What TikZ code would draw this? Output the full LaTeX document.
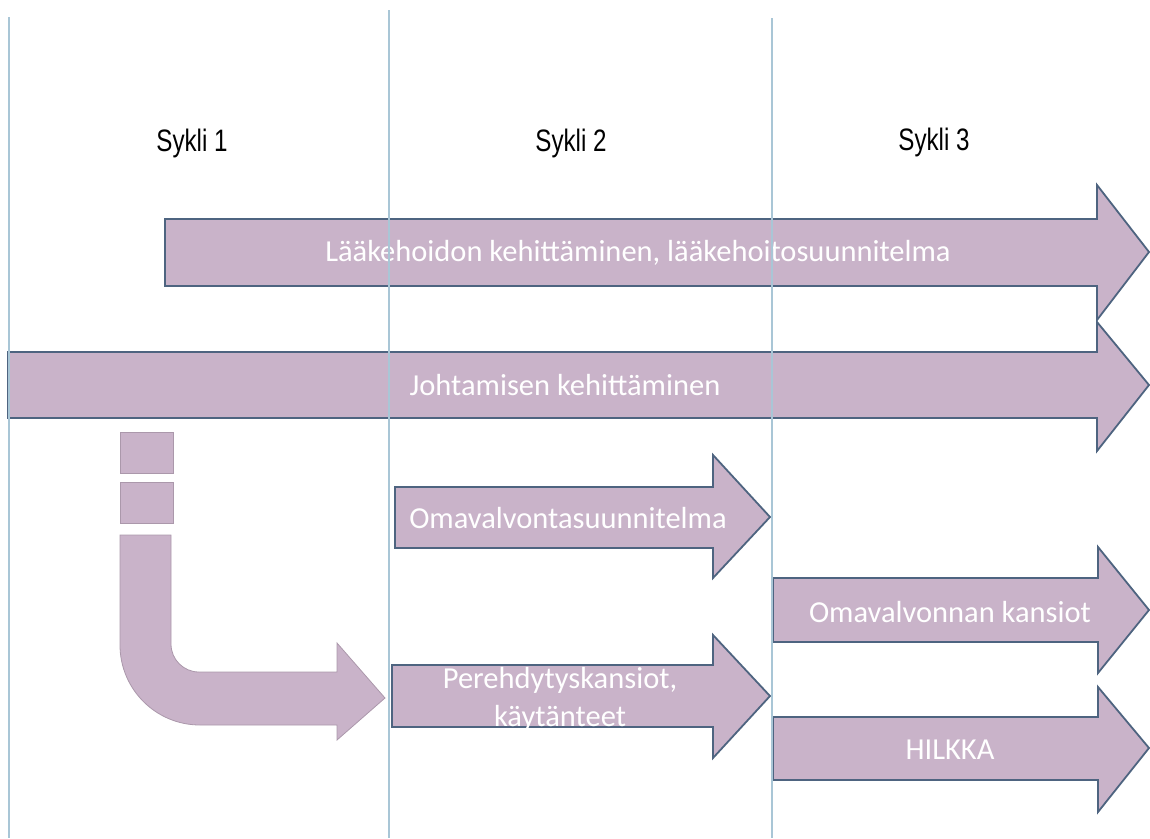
\documentclass[tikz,border=0pt]{standalone}
\usepackage{fontspec}
\setmainfont{Carlito}
\newfontfamily\syklifont[FakeStretch=0.78]{Liberation Sans}
\usetikzlibrary{positioning}

\definecolor{arrowfill}{HTML}{C9B3C9}
\definecolor{arrowedge}{HTML}{4E6480}
\definecolor{gridline}{HTML}{A9C6D6}

\begin{document}
\begin{tikzpicture}[
    x=1pt,
    y=-1pt,
    blockarrow/.style={
        fill=arrowfill,
        draw=arrowedge,
        line width=1.8pt,
        line join=miter
    },
    bentarrow/.style={
        fill=arrowfill,
        draw=arrowfill!85!black,
        line width=0.8pt
    },
    phase/.style={
        font=\syklifont\fontsize{31}{36}\selectfont,
        text=black
    },
    caption/.style={
        font=\fontsize{30.5}{38}\selectfont,
        text=white,
        align=center
    },
    divider/.style={
        draw=gridline,
        line width=1.2pt
    }
]
\useasboundingbox (0,0) rectangle (1150,838);

% Cycle headings
\node [phase] (sykli1) at (192,143) {Sykli 1};
\node [phase] (sykli2) at (571,143) {Sykli 2};
\node [phase] (sykli3) at (934,142) {Sykli 3};

% Block arrows
\draw [blockarrow] (165,219) -- (1097,219) -- (1097,185) -- (1149,252) -- (1097,320) -- (1097,286) -- (165,286) -- cycle;
\draw [blockarrow] (8,352) -- (1097,352) -- (1097,322) -- (1149,385) -- (1097,451) -- (1097,418) -- (8,418) -- cycle;
\draw [blockarrow] (395,487) -- (713,487) -- (713,455) -- (770,517) -- (713,578) -- (713,548) -- (395,548) -- cycle;
\draw [blockarrow] (392,665) -- (713,665) -- (713,635) -- (770,696) -- (713,758) -- (713,727) -- (392,727) -- cycle;
\draw [blockarrow] (773,578) -- (1098,578) -- (1098,547) -- (1149,610) -- (1098,673) -- (1098,642) -- (773,642) -- cycle;
\draw [blockarrow] (773,717) -- (1098,717) -- (1098,687) -- (1149,748) -- (1098,812) -- (1098,780) -- (773,780) -- cycle;

% Bent arrow from cycle 1
\draw [bentarrow] (120,432) rectangle (173,473);
\draw [bentarrow] (120,482) rectangle (173,523);
\draw [bentarrow] (120,535) -- (171,535) -- (171,644) arc (180:90:28) -- (337,672) -- (337,643)
    -- (385,698) -- (337,740) -- (337,725) -- (200,725) arc (90:180:80) -- cycle;

% Labels
\node [caption] (medication) at (638,253) {Lääkehoidon kehittäminen, lääkehoitosuunnitelma};
\node [caption] (leadership) at (565,385) {Johtamisen kehittäminen};
\node [caption] (selfplan) at (568,518) {Omavalvontasuunnitelma};
\node [caption] (induction) at (560,699) {Perehdytyskansiot,\\käytänteet};
\node [caption] (selffolders) at (950,612) {Omavalvonnan kansiot};
\node [caption] (hilkka) at (950,750) {HILKKA};

% Cycle dividers
\draw [divider] (9,17) -- (9,838);
\draw [divider] (389,10) -- (389,838);
\draw [divider] (772,18) -- (772,838);

\end{tikzpicture}
\end{document}
